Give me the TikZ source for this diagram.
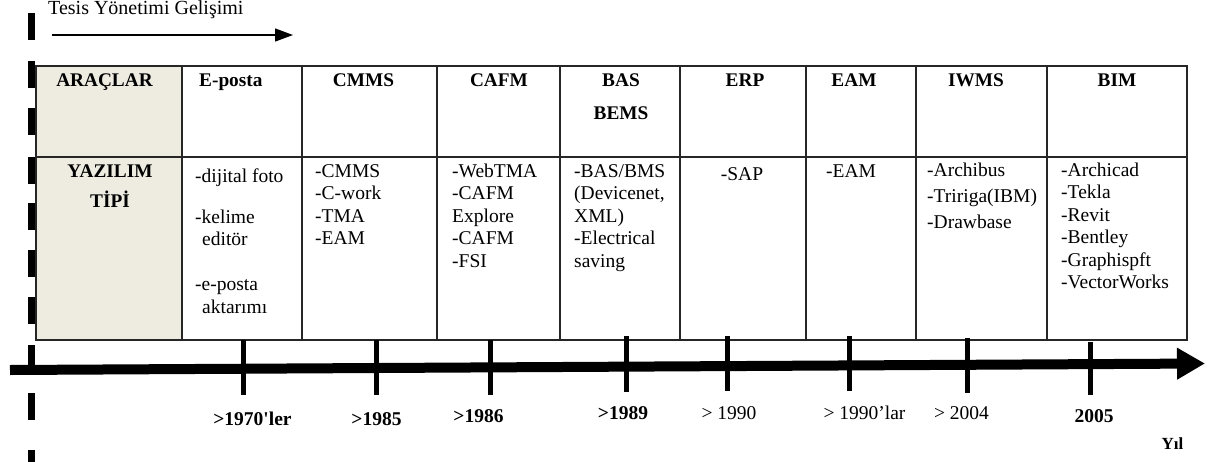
\documentclass[tikz,border=0pt]{standalone}
\usepackage{fontspec}
\setmainfont{Liberation Serif}
\usetikzlibrary{arrows.meta}
\definecolor{toolfill}{HTML}{EEECE1}
\tikzstyle{grid_line} = [line width=1.2pt, draw=black!85]
\tikzstyle{head_text} = [inner sep=0pt, anchor=base, align=center, font=\bfseries\fontsize{19.3}{33}\selectfont]
\tikzstyle{cell_text} = [inner sep=0pt, anchor=base west, align=left, font=\fontsize{19.5}{22.5}\selectfont]
\tikzstyle{year_label} = [inner sep=0pt, anchor=base, font=\fontsize{19.5}{22}\selectfont]
\tikzstyle{year_bold} = [year_label, font=\bfseries\fontsize{19.5}{22}\selectfont]
\tikzstyle{time_axis} = [line width=10pt, -{Triangle[length=28pt, width=30pt]}]
\tikzstyle{year_tick} = [line width=5pt]
\tikzstyle{guide_dash} = [line width=7pt]
\tikzstyle{dev_arrow} = [line width=1.3pt, -{Triangle[length=18pt, width=13pt]}]
\begin{document}
\begin{tikzpicture}[x=1pt, y=-1pt]
\useasboundingbox (0,0) rectangle (1208,461);

% sol kesikli cizgi
\foreach \ys in {13,61,108,157,203,250,297,345,393,450}
  \draw[guide_dash] (31.5,\ys) -- ++(0,27);

\node (title) [anchor=base west, inner sep=0pt, font=\fontsize{20}{24}\selectfont] at (48,14) {Tesis Yönetimi Gelişimi};
\coordinate (dev_start) at (52,35);
\coordinate (dev_end) at (293,35);
\draw[dev_arrow] (dev_start) -- (dev_end);

% tablo (cok satirli metinlerde base = son satir)
\fill[toolfill] (36,66) rectangle (182,340);
\draw[grid_line] (36,66) rectangle (1187,340);
\draw[grid_line] (36,157) -- (1187,157);
\foreach \xc in {182,302,437,560,680,806,916,1047}
  \draw[grid_line] (\xc,66) -- (\xc,340);

\node (tools) [head_text] at (104.5,86) {ARAÇLAR};
\node (email) [head_text, anchor=base west] at (199,86) {E-posta};
\node (cmms) [head_text] at (363.5,86) {CMMS};
\node (cafm) [head_text] at (499,86) {CAFM};
\node (bas) [head_text] at (621,119) {BAS\\BEMS};
\node (erp) [head_text] at (745,86) {ERP};
\node (eam) [head_text] at (854,86) {EAM};
\node (iwms) [head_text] at (976,86) {IWMS};
\node (bim) [head_text] at (1117,86) {BIM};

\node (software) [head_text, font=\bfseries\fontsize{19.3}{30}\selectfont] at (110,207) {YAZILIM\\TİPİ};
\node (email_sw) [cell_text] at (195,313) {-dijital foto\\[18.5pt]-kelime\\\hspace*{7pt}editör\\[22.5pt]-e-posta\\\hspace*{7pt}aktarımı};
\node (cmms_sw) [cell_text] at (315,244.5) {-CMMS\\-C-work\\-TMA\\-EAM};
\node (cafm_sw) [cell_text] at (452,267) {-WebTMA\\-CAFM\\Explore\\-CAFM\\-FSI};
\node (bas_sw) [cell_text] at (574,267) {-BAS/BMS\\(Devicenet,\\XML)\\-Electrical\\saving};
\node (erp_sw) [cell_text, anchor=base] at (742,180) {-SAP};
\node (eam_sw) [cell_text] at (826,177) {-EAM};
\node (iwms_sw) [cell_text, font=\fontsize{19.5}{26}\selectfont] at (927,228) {-Archibus\\-Tririga(IBM)\\-Drawbase};
\node (bim_sw) [cell_text] at (1061,288.5) {-Archicad\\-Tekla\\-Revit\\-Bentley\\-Graphispft\\-VectorWorks};

% zaman ekseni
\coordinate (axis_start) at (10,370);
\coordinate (axis_end) at (1205,363.5);
\draw[time_axis] (axis_start) -- (axis_end);
\foreach \xt/\yt/\yb in {243/340/395, 376/340/395, 490/340/395, 626/336/392, 727/336/391, 849/336/391, 967/338/393, 1090/342/395}
  \draw[year_tick] (\xt,\yt) -- (\xt,\yb);

\node (y1970) [year_bold] at (252.5,425.5) {>1970\textquotesingle ler};
\node (y1985) [year_bold] at (376.5,425) {>1985};
\node (y1986) [year_bold] at (478.5,422.5) {>1986};
\node (y1989) [year_bold] at (623,419.5) {>1989};
\node (y1990) [year_label] at (729,419.5) {> 1990};
\node (y1990s) [year_label] at (864.5,419.5) {> 1990’lar};
\node (y2004) [year_label] at (961.5,419.5) {> 2004};
\node (y2005) [year_bold] at (1094,422.5) {2005};
\node (year) [year_bold, font=\bfseries\fontsize{17}{20}\selectfont] at (1172.5,449) {Yıl};
\end{tikzpicture}
\end{document}
